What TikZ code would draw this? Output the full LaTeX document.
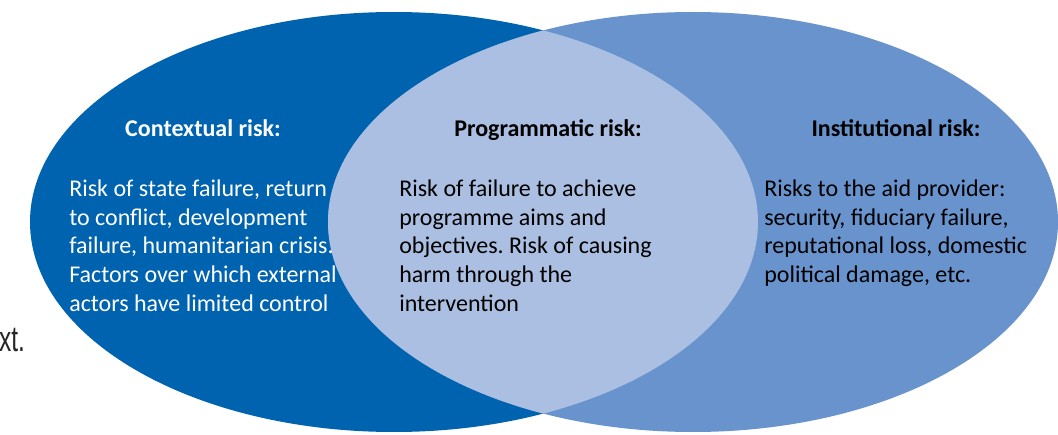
\documentclass[tikz,border=0pt]{standalone}
\usepackage{fontspec}
\setmainfont{Carlito}
\newfontfamily\xtfont{Liberation Sans}
\frenchspacing
\begin{document}
\begin{tikzpicture}[x=0.75pt,y=-0.75pt,font=\fontsize{18}{21.4}\selectfont]
\definecolor{ctxc}{RGB}{0,99,175}
\definecolor{instc}{RGB}{104,147,204}
\definecolor{lensc}{RGB}{170,191,225}

\tikzset{
riskhead/.style={font=\fontsize{18}{21.4}\selectfont\bfseries, anchor=base, inner sep=0pt},
riskbody/.style={align=left, anchor=north west, inner sep=0pt}
}

\useasboundingbox (0,0) rectangle (1058,435);
\fill[white] (0,0) rectangle (1058,435);

% the two sets and their overlap
\fill[ctxc] (394,222) ellipse [x radius=364, y radius=210];
\fill[instc] (693,222) ellipse [x radius=365, y radius=210];
\begin{scope}
\clip (394,222) ellipse [x radius=364, y radius=210];
\fill[lensc] (693,222) ellipse [x radius=365, y radius=210];
\end{scope}

\node[riskhead, text=white] (ctxhead) at (203,137) {Contextual risk:};
\node[riskhead] (proghead) at (548,137) {Programmatic risk:};
\node[riskhead] (insthead) at (896,137) {Institutional risk:};

\node[riskbody, text=white] (ctxbody) at (69,180) {Risk of state failure, return\\to conflict, development\\failure, humanitarian crisis.\\Factors over which external\\actors have limited control};
\node[riskbody] (progbody) at (399,180) {Risk of failure to achieve\\programme aims and\\objectives. Risk of causing\\harm through the\\intervention};
\node[riskbody] (instbody) at (764,180) {Risks to the aid provider:\\security, fiduciary failure,\\reputational loss, domestic\\political damage, etc.};

\node[font=\xtfont\fontsize{27}{29}\selectfont, xscale=0.68, anchor=base west, inner sep=0pt, text=black!85] (cuttext) at (-1,351) {xt.};
\end{tikzpicture}
\end{document}
